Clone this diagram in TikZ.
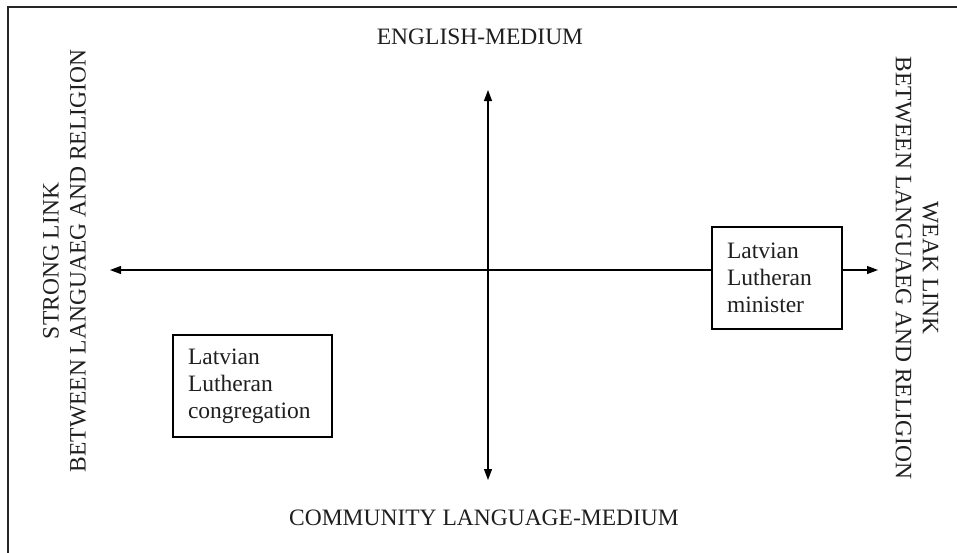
\documentclass[tikz,border=0pt]{standalone}
\usepackage{fontspec}
\setmainfont{Liberation Serif}
\usetikzlibrary{arrows.meta}
\begin{document}
\begin{tikzpicture}[x=1pt,y=-1pt,
  every node/.style={font=\fontsize{23.5}{27}\selectfont, text=black!88},
  box/.style={draw, line width=1.1pt, fill=white, align=left, inner xsep=15pt, inner ysep=0pt, minimum height=102pt},
  axis/.style={line width=1.1pt, -{Triangle[length=11pt,width=8pt]}},
  vlabel/.style={align=center, font=\fontsize{23.5}{27}\selectfont}]
\useasboundingbox (0,0) rectangle (957,552);
\fill[white] (0,0) rectangle (957,552);
\draw[line width=1.8pt, black!85] (8,560) -- (8,7) -- (965,7);
% axis end points
\coordinate (top) at (488,90);
\coordinate (bot) at (488,480);
\coordinate (lft) at (110,270);
\coordinate (rgt) at (878,270);
\coordinate (mid) at (488,270);
% nodes
\node[box, text width=100pt] (min) at (777,278) {Latvian\\Lutheran\\minister};
\node[box, text width=129pt] (cong) at (252.5,386) {Latvian\\Lutheran\\congregation};
\node (eng) at (480,37) {ENGLISH-MEDIUM};
\node (com) at (484,518) {COMMUNITY LANGUAGE-MEDIUM};
\node[vlabel, rotate=90] (strong) at (64.5,261) {STRONG LINK\\BETWEEN LANGUAEG AND RELIGION};
\node[vlabel, rotate=-90] (weak) at (917,268) {WEAK LINK\\BETWEEN LANGUAEG AND RELIGION};
% axes
\draw[axis] (mid) -- (top);
\draw[axis] (mid) -- (bot);
\draw[axis] (min.west |- lft) -- (lft);
\draw[axis] (min.east |- rgt) -- (rgt);
\end{tikzpicture}
\end{document}
